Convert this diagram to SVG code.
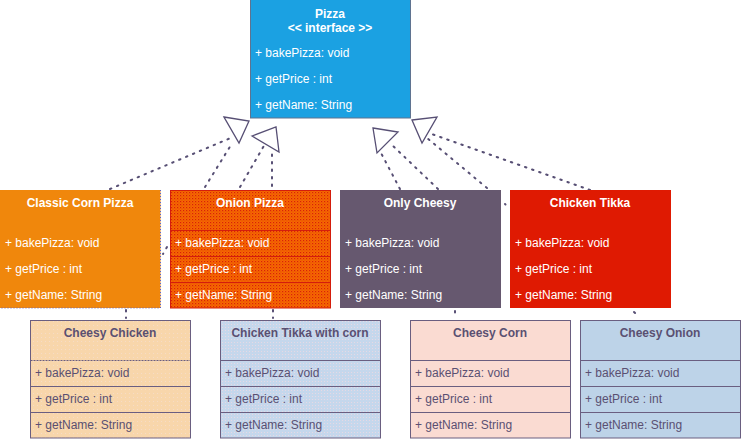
<svg xmlns="http://www.w3.org/2000/svg" width="741" height="442" viewBox="0 0 741 442">
<defs>
<pattern id="onionPat" width="3" height="3" patternUnits="userSpaceOnUse">
<rect width="3" height="3" fill="#f66a00"/>
<rect x="0" y="0" width="1.2" height="1.2" fill="#d8200a"/>
<rect x="1.5" y="1.5" width="1" height="1" fill="#e33a08"/>
</pattern>
<pattern id="tikkaCornPat" width="3" height="3" patternUnits="userSpaceOnUse">
<rect width="3" height="3" fill="#c5d7ec"/>
<rect x="0" y="0" width="1" height="1" fill="#e6d9e4"/>
</pattern>
<pattern id="cheesyChickenPat" width="4" height="4" patternUnits="userSpaceOnUse">
<rect width="4" height="4" fill="#f8d6ab"/>
<rect x="1" y="1" width="1" height="1" fill="#f6dcc6"/>
</pattern>
</defs>
<style>
text{font-family:"Liberation Sans",Arial,Helvetica,sans-serif;font-size:12px;}
.t{font-weight:bold;text-anchor:middle;}
.w{fill:#ffffff;}
.d{fill:#5a5072;}
.conn{fill:none;stroke:#574f74;stroke-width:2;stroke-dasharray:1.5 6;stroke-linecap:round;}
.tri{fill:#ffffff;stroke:#574f74;stroke-width:1.3;stroke-linejoin:miter;}
.sepR{stroke:#d41d0c;stroke-width:1;}
.sepD{stroke:#6a5e80;stroke-width:1;}
</style>
<rect width="741" height="442" fill="#ffffff"/>

<g id="connectors">
<line class="conn" x1="110" y1="189" x2="233" y2="137"/>
<line class="conn" x1="205" y1="187" x2="231" y2="145"/>
<line class="conn" x1="240" y1="187" x2="265" y2="144"/>
<line class="conn" x1="272" y1="186" x2="272" y2="151"/>
<line class="conn" x1="400" y1="189" x2="381" y2="153"/>
<line class="conn" x1="438" y1="189" x2="391" y2="144"/>
<line class="conn" x1="487" y1="188" x2="427" y2="138"/>
<line class="conn" x1="590" y1="190" x2="429" y2="133"/>
<line class="conn" x1="167" y1="247" x2="163" y2="254"/>
<line class="conn" x1="505" y1="204" x2="505.5" y2="204.5"/>
<line class="conn" x1="126" y1="310" x2="126" y2="318"/>
<line class="conn" x1="273" y1="310" x2="273" y2="318"/>
<line class="conn" x1="455" y1="311" x2="455" y2="318"/>
<line class="conn" x1="634" y1="312" x2="639" y2="317"/>
<polygon class="tri" points="224,117 249,121 239,143"/>
<polygon class="tri" points="252,136 276,127 279,152"/>
<polygon class="tri" points="373,128 398,132 377,153"/>
<polygon class="tri" points="412,120 437,117 422,143"/>
</g>

<g id="pizza">
<rect x="250.5" y="-0.5" width="160" height="118.5" fill="#1ba1e2" stroke="#5f7390" stroke-width="1"/>
<text class="t w" x="330" y="18">Pizza</text>
<text class="t w" x="330" y="32">&lt;&lt; interface &gt;&gt;</text>
<text class="w" x="255" y="57">+ bakePizza: void</text>
<text class="w" x="255" y="83">+ getPrice : int</text>
<text class="w" x="255" y="109">+ getName: String</text>
</g>

<g id="classic-corn-pizza">
<rect x="0" y="190" width="160.5" height="118" fill="#f0870c"/>
<path d="M160.5 190 V308 H0" fill="none" stroke="#5b62c8" stroke-width="1" stroke-dasharray="1 2"/>
<text class="t w" x="80" y="207">Classic Corn Pizza</text>
<text class="w" x="5" y="247">+ bakePizza: void</text>
<text class="w" x="5" y="273">+ getPrice : int</text>
<text class="w" x="5" y="299">+ getName: String</text>
</g>

<g id="onion-pizza">
<rect x="170.5" y="190.5" width="160" height="117.5" fill="url(#onionPat)" stroke="#d41d0c" stroke-width="1"/>
<line class="sepR" x1="170.5" y1="230.5" x2="330.5" y2="230.5"/>
<line class="sepR" x1="170.5" y1="256.5" x2="330.5" y2="256.5"/>
<line class="sepR" x1="170.5" y1="282.5" x2="330.5" y2="282.5"/>
<text class="t w" x="250" y="207">Onion Pizza</text>
<text class="w" x="175" y="247">+ bakePizza: void</text>
<text class="w" x="175" y="273">+ getPrice : int</text>
<text class="w" x="175" y="299">+ getName: String</text>
</g>

<g id="only-cheesy">
<rect x="340" y="190" width="161" height="118" fill="#66586f"/>
<text class="t w" x="420" y="207">Only Cheesy</text>
<text class="w" x="345" y="247">+ bakePizza: void</text>
<text class="w" x="345" y="273">+ getPrice : int</text>
<text class="w" x="345" y="299">+ getName: String</text>
</g>

<g id="chicken-tikka">
<rect x="510" y="190" width="161" height="118" fill="#df1a02"/>
<text class="t w" x="590" y="207">Chicken Tikka</text>
<text class="w" x="515" y="247">+ bakePizza: void</text>
<text class="w" x="515" y="273">+ getPrice : int</text>
<text class="w" x="515" y="299">+ getName: String</text>
</g>

<g id="cheesy-chicken">
<rect x="30.5" y="320.5" width="160" height="117.5" fill="url(#cheesyChickenPat)" stroke="#6a5e80" stroke-width="1"/>
<line class="sepD" x1="30.5" y1="360.5" x2="190.5" y2="360.5" stroke-dasharray="2 1"/>
<line class="sepD" x1="30.5" y1="386.5" x2="190.5" y2="386.5"/>
<line class="sepD" x1="30.5" y1="412.5" x2="190.5" y2="412.5"/>
<text class="t d" x="110" y="337">Cheesy Chicken</text>
<text class="d" x="35" y="377">+ bakePizza: void</text>
<text class="d" x="35" y="403">+ getPrice : int</text>
<text class="d" x="35" y="429">+ getName: String</text>
</g>

<g id="chicken-tikka-with-corn">
<rect x="220.5" y="320.5" width="160" height="117.5" fill="url(#tikkaCornPat)" stroke="#6a5e80" stroke-width="1"/>
<line class="sepD" x1="220.5" y1="360.5" x2="380.5" y2="360.5"/>
<line class="sepD" x1="220.5" y1="386.5" x2="380.5" y2="386.5"/>
<line class="sepD" x1="220.5" y1="412.5" x2="380.5" y2="412.5"/>
<text class="t d" x="300" y="337">Chicken Tikka with corn</text>
<text class="d" x="225" y="377">+ bakePizza: void</text>
<text class="d" x="225" y="403">+ getPrice : int</text>
<text class="d" x="225" y="429">+ getName: String</text>
</g>

<g id="cheesy-corn">
<rect x="410.5" y="320.5" width="160" height="117.5" fill="#fadbd2" stroke="#6a5e80" stroke-width="1"/>
<line class="sepD" x1="410.5" y1="360.5" x2="570.5" y2="360.5"/>
<line class="sepD" x1="410.5" y1="386.5" x2="570.5" y2="386.5"/>
<line class="sepD" x1="410.5" y1="412.5" x2="570.5" y2="412.5"/>
<text class="t d" x="490" y="337">Cheesy Corn</text>
<text class="d" x="415" y="377">+ bakePizza: void</text>
<text class="d" x="415" y="403">+ getPrice : int</text>
<text class="d" x="415" y="429">+ getName: String</text>
</g>

<g id="cheesy-onion">
<rect x="580.5" y="320.5" width="160" height="117.5" fill="#bdd3e8" stroke="#6a5e80" stroke-width="1"/>
<line class="sepD" x1="580.5" y1="360.5" x2="740.5" y2="360.5"/>
<line class="sepD" x1="580.5" y1="386.5" x2="740.5" y2="386.5"/>
<line class="sepD" x1="580.5" y1="412.5" x2="740.5" y2="412.5"/>
<text class="t d" x="660" y="337">Cheesy Onion</text>
<text class="d" x="585" y="377">+ bakePizza: void</text>
<text class="d" x="585" y="403">+ getPrice : int</text>
<text class="d" x="585" y="429">+ getName: String</text>
</g>
</svg>
